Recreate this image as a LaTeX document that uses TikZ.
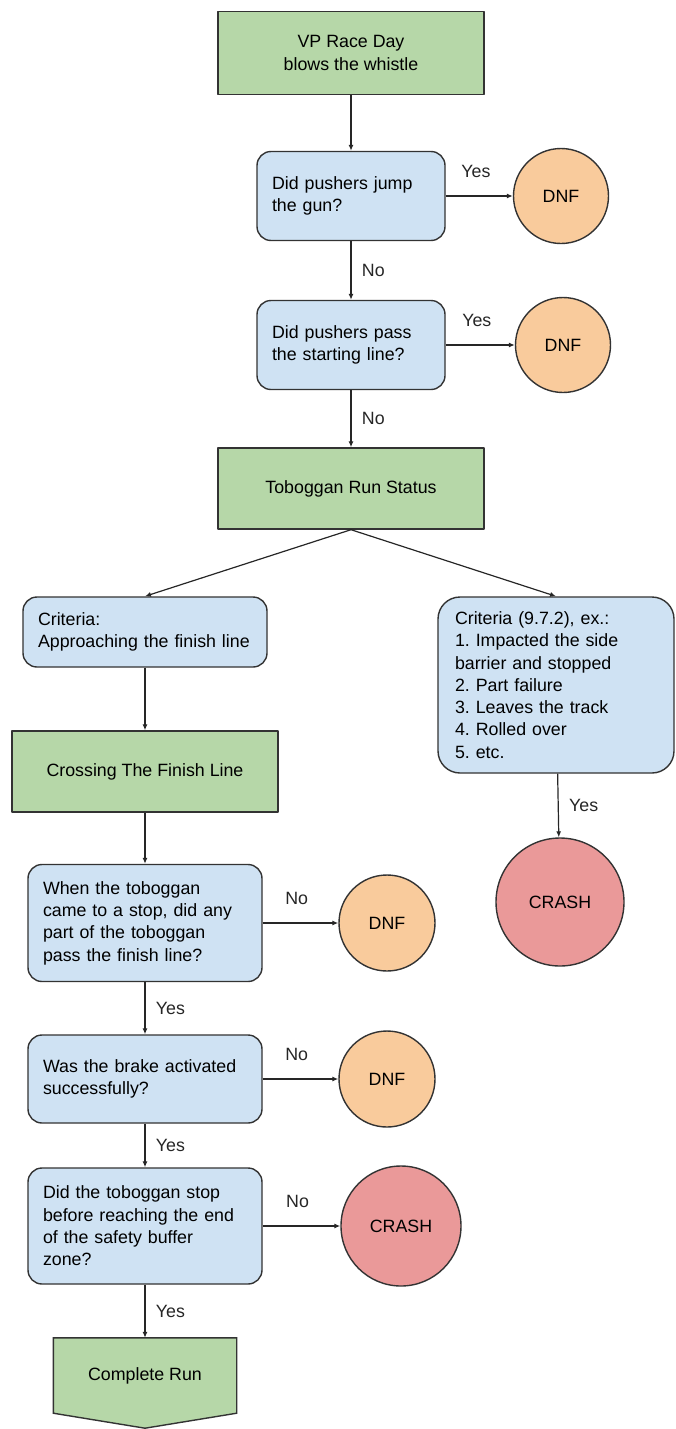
\documentclass[tikz,border=0pt]{standalone}
\usepackage{fontspec}
\setmainfont{Liberation Sans}
\usetikzlibrary{arrows.meta,backgrounds}
\definecolor{stepgreen}{HTML}{B6D7A8}
\definecolor{askblue}{HTML}{CFE2F3}
\definecolor{dnforange}{HTML}{F9CB9C}
\definecolor{crashred}{HTML}{EA9999}
\definecolor{edgegray}{HTML}{333333}
\frenchspacing
\begin{document}
\begin{tikzpicture}[x=1pt, y=-1pt, font=\fontsize{17.8}{22.3}\selectfont, line join=round, >={Latex[length=6pt,width=5pt]},
 greenbox/.style={draw=edgegray, line width=1.4pt, fill=stepgreen, align=center, inner sep=2pt},
 askbox/.style={draw=edgegray, line width=1.4pt, fill=askblue, rounded corners=14pt, align=left, inner xsep=15pt, inner ysep=2pt},
 dnfball/.style={circle, draw=edgegray, line width=1.4pt, fill=dnforange, minimum size=95pt, inner sep=0pt},
 crashball/.style={circle, draw=edgegray, line width=1.4pt, fill=crashred, inner sep=0pt},
 flow/.style={->, line width=1.2pt, black!85},
 sidelabel/.style={right=7pt, pos=0.5},
 toplabel/.style={anchor=base, yshift=19pt, pos=0.45}]
 \useasboundingbox (0,0) rectangle (676,1429);
 \node[greenbox, minimum width=266pt, minimum height=83pt] (start) at (351,53) {VP Race Day\\blows the whistle};
 \node[askbox, text width=158pt, minimum height=89pt] (q1) at (351,196) {Did pushers jump\\the gun?};
 \node[dnfball] (dnf1) at (561,196) {DNF};
 \node[askbox, text width=158pt, minimum height=89pt] (q2) at (351,345) {Did pushers pass\\the starting line?};
 \node[dnfball] (dnf2) at (563,345) {DNF};
 \node[greenbox, minimum width=266pt, minimum height=81pt] (status) at (351,488.5) {Toboggan Run Status};
 \node[askbox, text width=214pt, minimum height=70pt] (critA) at (145,632) {Criteria:\\Approaching the finish line};
 \node[askbox, rounded corners=22pt, inner xsep=17pt, text width=202pt, minimum height=176pt] (critB) at (556,685) {Criteria (9.7.2), ex.:\\1. Impacted the side\\barrier and stopped\\2. Part failure\\3. Leaves the track\\4. Rolled over\\5. etc.};
 \node[crashball, minimum size=128pt] (crash1) at (560,902) {CRASH};
 \node[greenbox, minimum width=266pt, minimum height=81pt] (cross) at (145,771.5) {Crossing The Finish Line};
 \node[askbox, text width=204pt, minimum height=117pt] (q3) at (145,923) {When the toboggan\\came to a stop, did any\\part of the toboggan\\pass the finish line?};
 \node[dnfball, minimum size=96pt] (dnf3) at (387,923) {DNF};
 \node[askbox, text width=204pt, minimum height=88pt] (q4) at (145,1079) {Was the brake activated\\successfully?};
 \node[dnfball, minimum size=96pt] (dnf4) at (387,1079) {DNF};
 \node[askbox, text width=204pt, minimum height=116pt] (q5) at (145,1226) {Did the toboggan stop\\before reaching the end\\of the safety buffer\\zone?};
 \node[crashball, minimum size=120pt] (crash2) at (401,1226) {CRASH};
 \node[minimum width=183pt, minimum height=75pt, inner sep=0pt] (complete) at (145,1375.5) {Complete Run};
 \begin{scope}[on background layer]
 \draw[edgegray, line width=1.4pt, fill=stepgreen] (complete.north west)--(complete.north east)--(complete.south east)--([yshift=-15pt]complete.south)--(complete.south west)--cycle;
 \end{scope}
 \draw[flow] (start) -- (q1);
 \draw[flow] (q1) -- node[toplabel] {Yes} (dnf1);
 \draw[flow] (q1) -- node[sidelabel] {No} (q2);
 \draw[flow] (q2) -- node[toplabel] {Yes} (dnf2);
 \draw[flow] (q2) -- node[sidelabel] {No} (status);
 \draw[flow] (status.south) -- (critA.north);
 \draw[flow] (status.south) -- (critB.north);
 \draw[flow] (critB) -- node[sidelabel] {Yes} (crash1);
 \draw[flow] (critA) -- (cross);
 \draw[flow] (cross) -- (q3);
 \draw[flow] (q3) -- node[toplabel] {No} (dnf3);
 \draw[flow] (q3) -- node[sidelabel] {Yes} (q4);
 \draw[flow] (q4) -- node[toplabel] {No} (dnf4);
 \draw[flow] (q4) -- node[sidelabel] {Yes} (q5);
 \draw[flow] (q5) -- node[toplabel] {No} (crash2);
 \draw[flow] (q5) -- node[sidelabel] {Yes} (complete.north);
\end{tikzpicture}
\end{document}
